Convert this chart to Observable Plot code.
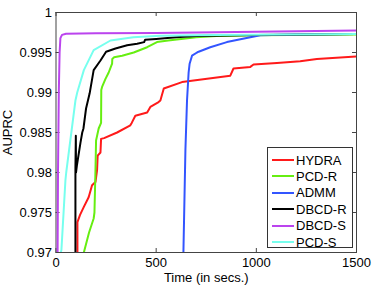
<!DOCTYPE html>
<html>
<head>
<meta charset="utf-8">
<script src="https://cdn.jsdelivr.net/npm/d3@7"></script>
<script src="https://cdn.jsdelivr.net/npm/@observablehq/plot@0.6"></script>
<style>
  body { margin: 0; background: #fff; font-family: "Liberation Sans", Arial, sans-serif; }
  #wrap { position: relative; width: 374px; height: 285px; }
  #legend { position: absolute; left: 267px; top: 147px; width: 86px; height: 101px; background: #fff; border: 1px solid #333; box-sizing: border-box; font-size: 13px; }
  .row { position: absolute; left: 0; height: 16px; display: flex; align-items: center; }
  .row span.sw { display: inline-block; width: 22px; height: 2px; margin-left: 4px; margin-right: 2px; }
</style>
</head>
<body>
<div id="wrap"></div>
<script>
const seriesNames = ["HYDRA", "PCD-R", "ADMM", "DBCD-R", "DBCD-S", "PCD-S"];
const seriesColors = ["#ff1a1a", "#66ee11", "#3355ff", "#000000", "#bb44ee", "#77ffee"];

const hydra = [[107,0.970],[107,0.9738],[120,0.9747],[139,0.9757],[163,0.9769],[180,0.9784],[197,0.9788],[205,0.9803],[208,0.9821],[222,0.9825],[225,0.9842],[240,0.9843],[305,0.9850],[371,0.9859],[378,0.9862],[396,0.9871],[455,0.9875],[471,0.9882],[512,0.9888],[521,0.989],[538,0.9905],[629,0.9913],[870,0.9921],[886,0.9930],[970,0.9932],[986,0.9935],[1103,0.9937],[1219,0.9939],[1302,0.9942],[1500,0.9945]];
const pcdR = [[139,0.970],[165,0.9725],[188,0.97425],[192,0.975],[197,0.9803],[200,0.984],[213,0.9855],[225,0.9862],[226,0.9903],[230,0.9907],[247,0.9917],[263,0.9925],[280,0.9936],[281,0.9942],[290,0.9944],[330,0.9946],[388,0.9950],[455,0.99566],[504,0.9963],[560,0.9965],[700,0.9969],[800,0.99705],[1000,0.99715],[1500,0.99725]];
const admm = [[636,0.970],[646,0.9828],[654,0.989],[662,0.9925],[667,0.9936],[679,0.9946],[704,0.9950],[712,0.9951],[770,0.99566],[853,0.9963],[970,0.9969],[1020,0.99715],[1200,0.99725],[1500,0.9973]];
const dbcdR = [[97,0.970],[97,0.9806],[99,0.9846],[100,0.980],[105,0.981],[122,0.9837],[131,0.985],[137,0.9855],[150,0.988],[168,0.9899],[188,0.9928],[222,0.994],[250,0.9951],[297,0.9955],[355,0.9959],[405,0.9961],[440,0.9963],[445,0.9966],[500,0.9967],[600,0.9969],[700,0.99705],[1000,0.9972],[1500,0.9973]];
const dbcdS = [[8,0.970],[10,0.980],[14,0.990],[18,0.995],[22,0.9968],[30,0.9972],[50,0.99735],[200,0.9974],[500,0.99745],[1000,0.9976],[1500,0.99775]];
const pcdS = [[24,0.970],[27,0.9703],[47,0.979],[51,0.980],[97,0.989],[106,0.990],[139,0.9928],[188,0.9953],[272,0.9965],[386,0.9969],[520,0.9971],[800,0.9972],[1500,0.9973]];

const xTicks = [0, 500, 1000, 1500];
const yTicks = [0.97, 0.975, 0.98, 0.985, 0.99, 0.995, 1];

const allSeries = [hydra, pcdR, admm, dbcdR, dbcdS, pcdS];
const rows = allSeries.flatMap((s, i) => s.map(([t, v]) => ({t, v, name: seriesNames[i]})));

const tickLenX = 20;    // data units (~4px)
const tickLenY = 0.0005;

const plot = Plot.plot({
  width: 374,
  height: 285,
  marginLeft: 55.5,
  marginRight: 18,
  marginTop: 12,
  marginBottom: 33,
  style: {fontFamily: "Liberation Sans, Arial, sans-serif", fontSize: "13px", background: "#fff", color: "#000"},
  x: {domain: [0, 1500]},
  y: {domain: [0.97, 1]},
  color: {domain: seriesNames, range: seriesColors},
  marks: [
    Plot.frame({stroke: "#444", strokeWidth: 1}),
    Plot.ruleX(xTicks, {x: d => d, y1: 0.97, y2: 0.97 + tickLenY, stroke: "#444"}),
    Plot.ruleX(xTicks, {x: d => d, y1: 1, y2: 1 - tickLenY, stroke: "#444"}),
    Plot.ruleY(yTicks, {y: d => d, x1: 0, x2: tickLenX, stroke: "#444"}),
    Plot.ruleY(yTicks, {y: d => d, x1: 1500, x2: 1500 - tickLenX, stroke: "#444"}),
    Plot.line(rows, {x: "t", y: "v", z: "name", stroke: "name", strokeWidth: 2, clip: true, curve: "linear"}),
    Plot.axisX({ticks: xTicks, tickSize: 0, tickPadding: 5, fontSize: 13, tickFormat: d => String(d), label: "Time (in secs.)", labelAnchor: "center", labelOffset: 29, labelArrow: "none"}),
    Plot.axisY({ticks: yTicks, tickSize: 0, tickPadding: 4, fontSize: 13, tickFormat: d => String(+d.toFixed(3)), label: "AUPRC", labelAnchor: "center", labelOffset: 53, labelArrow: "none"})
  ]
});
document.getElementById("wrap").appendChild(plot);

const legend = document.createElement("div");
legend.id = "legend";
seriesNames.forEach((n, i) => {
  const r = document.createElement("div");
  r.className = "row";
  r.style.top = (4 + i * 16.4) + "px";
  const sw = document.createElement("span");
  sw.className = "sw";
  sw.style.background = seriesColors[i];
  const tx = document.createElement("span");
  tx.textContent = n;
  r.appendChild(sw); r.appendChild(tx);
  legend.appendChild(r);
});
document.getElementById("wrap").appendChild(legend);
</script>
</body>
</html>
